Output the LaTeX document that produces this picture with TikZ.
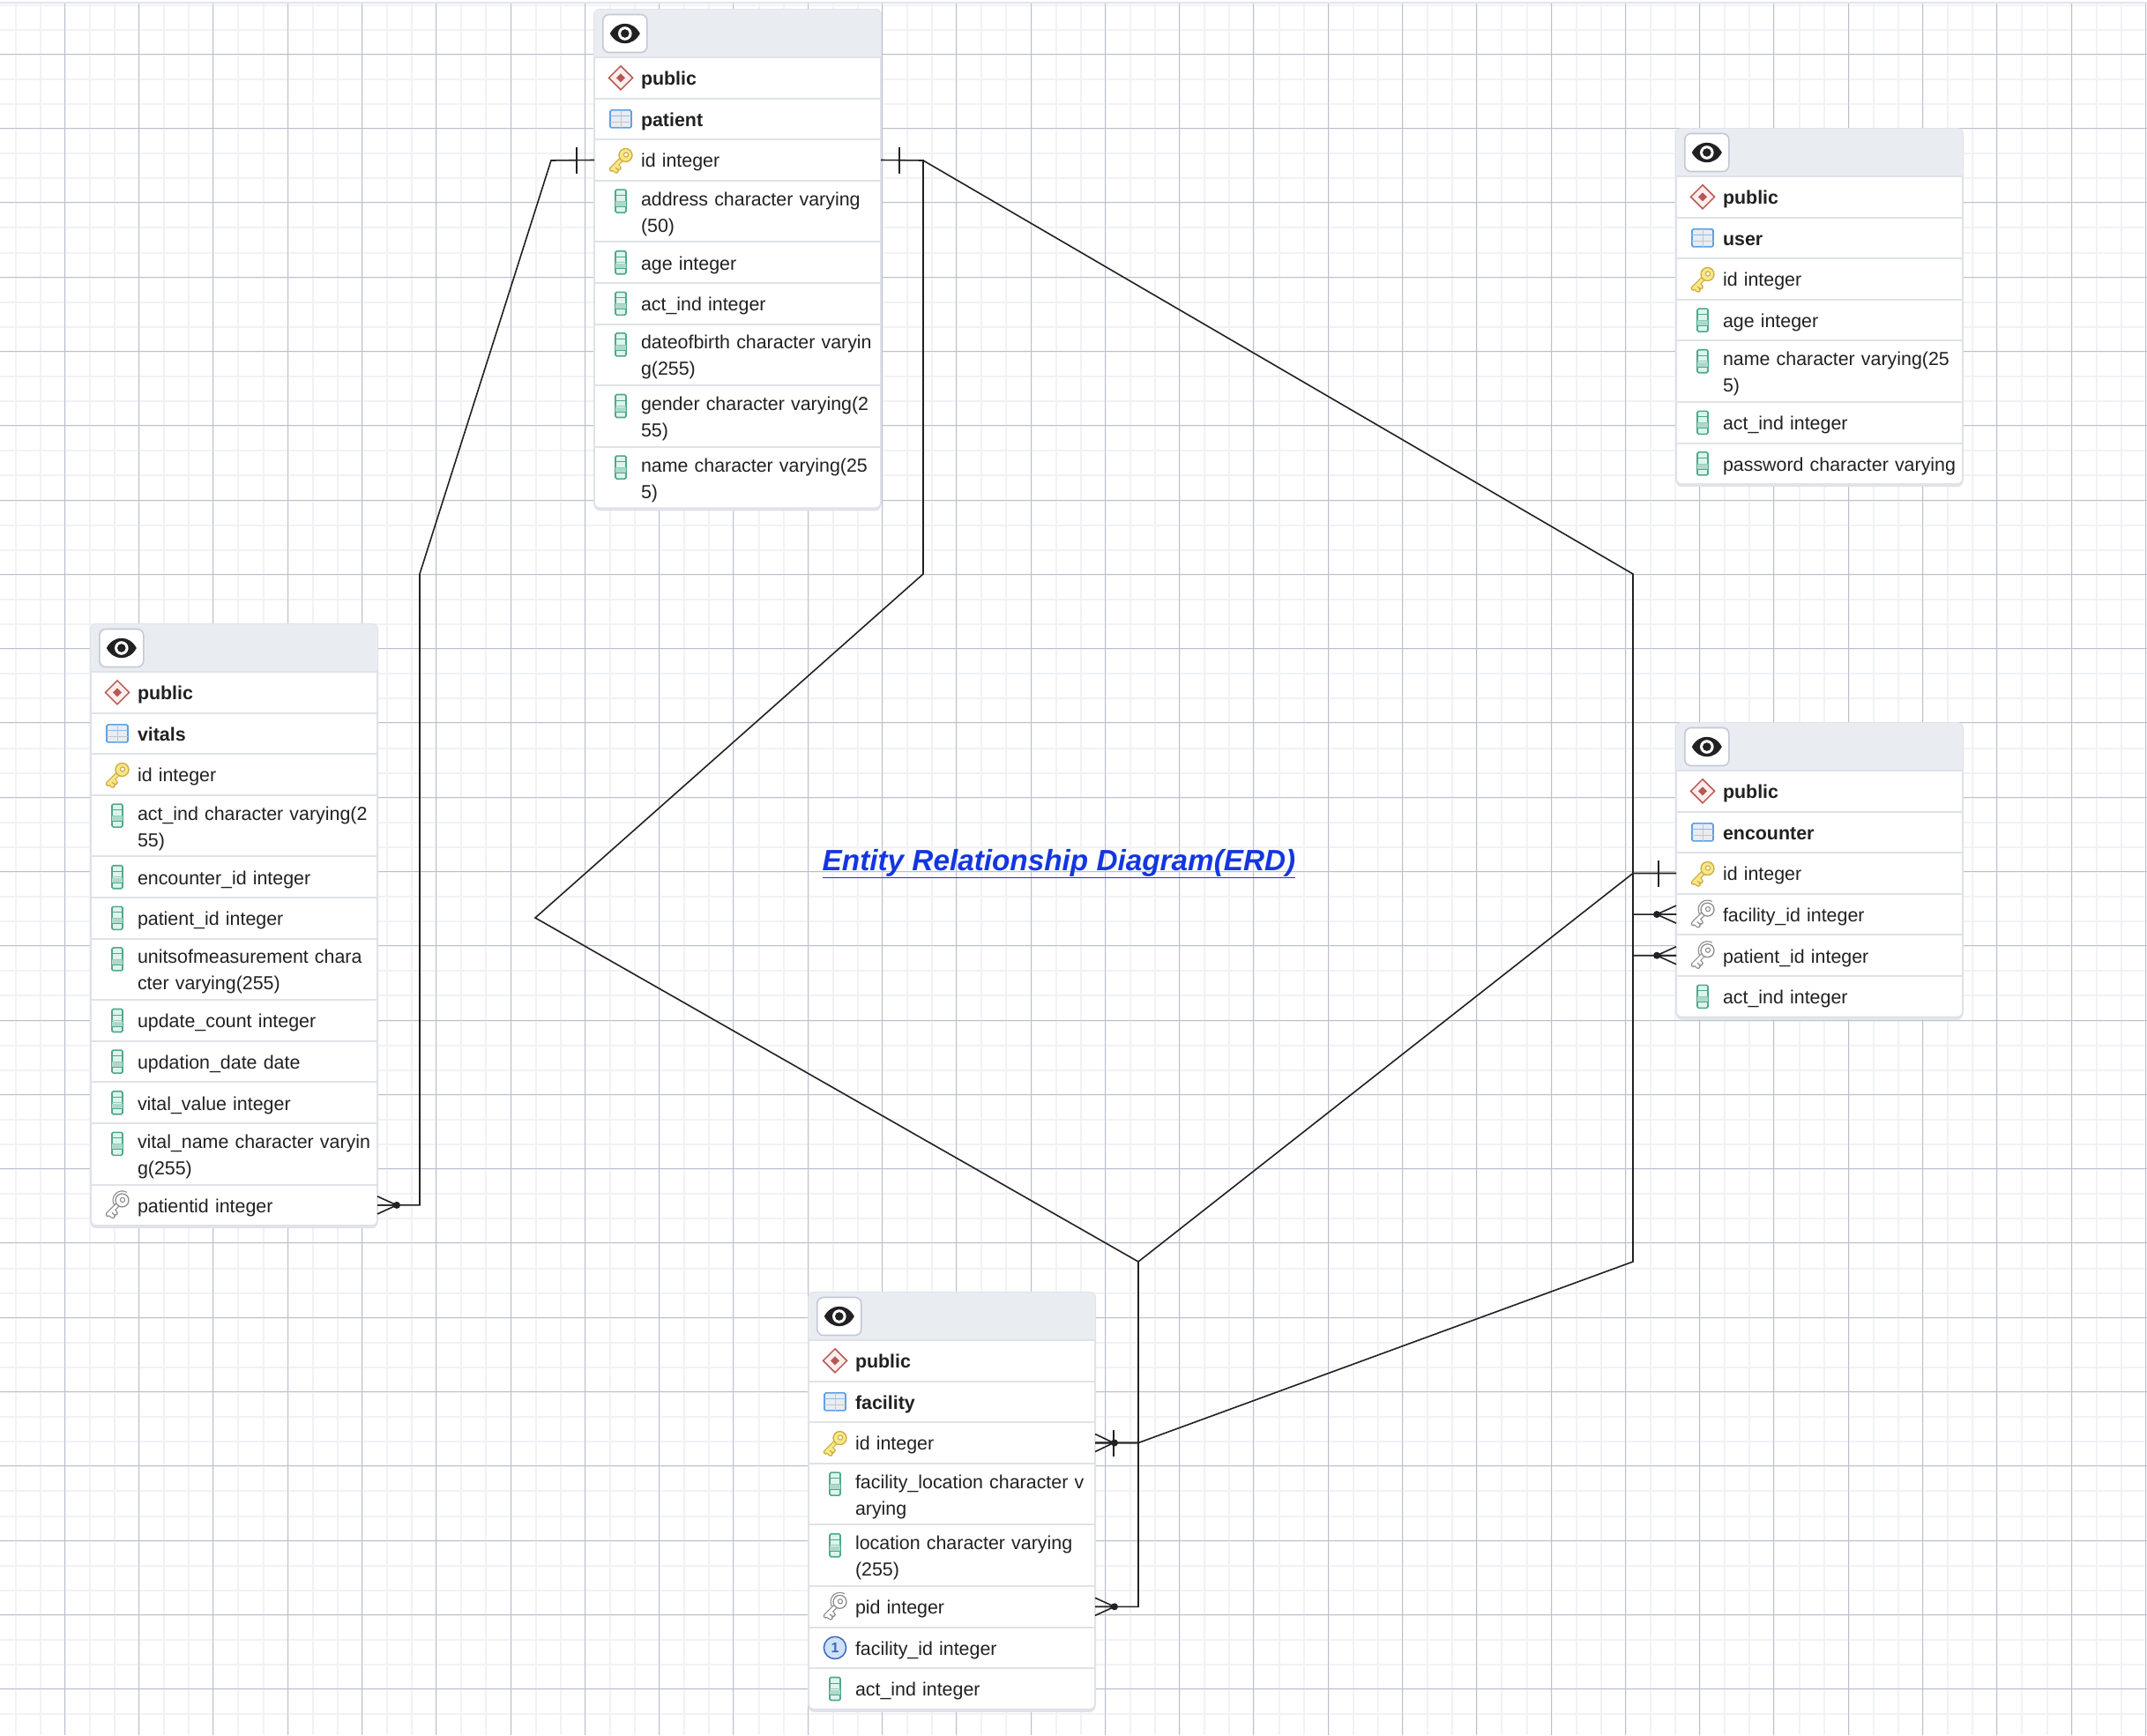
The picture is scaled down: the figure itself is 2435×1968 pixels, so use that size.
\documentclass[tikz,border=0pt]{standalone}
\usepackage{fontspec}
\setmainfont{Liberation Sans}
\usetikzlibrary{backgrounds,positioning,shapes.geometric}
\definecolor{gridlight}{RGB}{241,242,246}
\definecolor{gridmajor}{RGB}{188,191,204}
\definecolor{topband}{RGB}{226,228,234}
\definecolor{headfill}{RGB}{233,236,241}
\definecolor{rowline}{RGB}{224,226,233}
\definecolor{btnline}{RGB}{196,201,214}
\definecolor{inkblack}{RGB}{33,33,33}
\definecolor{linkblue}{RGB}{20,54,224}
\definecolor{keygold}{RGB}{247,232,130}
\definecolor{keyline}{RGB}{205,170,70}
\definecolor{fkline}{RGB}{140,140,140}
\definecolor{colfill}{RGB}{222,245,237}
\definecolor{colline}{RGB}{78,168,140}
\definecolor{tabline}{RGB}{90,160,230}
\definecolor{schemaline}{RGB}{184,88,84}
\definecolor{schemafill}{RGB}{253,238,237}
\definecolor{oneline}{RGB}{58,104,192}
\definecolor{onefill}{RGB}{207,226,243}
\newcommand{\keyshape}[2]{
  \draw[#2,line width=5.6pt,line cap=round] (3,-3) -- (-10.5,10.5)
    (-9,9) -- (-5,12.5) (-5.5,5.5) -- (-2,9);
  \draw[#1,line width=3.2pt,line cap=round] (3,-3) -- (-10.5,10.5)
    (-9,9) -- (-5,12.5) (-5.5,5.5) -- (-2,9);
  \filldraw[fill=#1,draw=#2,line width=1.3pt] (5.5,-5.5) circle (7.5);
  \filldraw[fill=white,draw=#2,line width=1.1pt] (6,-6) circle (2.6);
}
\tikzset{
  x=1pt,y=-1pt,
  headbox/.style={anchor=north west,minimum width=325pt,minimum height=54pt,inner sep=0pt,outer sep=0pt},
  rowbase/.style={text width=325pt,inner xsep=0pt,inner ysep=0pt,outer sep=0pt,align=left,
    text=inkblack,font=\fontsize{21.4}{30}\selectfont,
    execute at begin node={\leftskip=53pt\relax\rule{0pt}{23.4pt}},
    execute at end node={\rule[-6.6pt]{0pt}{6.6pt}}},
  rowone/.style={rowbase,minimum height=46.6pt},
  rowbold/.style={rowbase,minimum height=46.6pt,font=\fontsize{21.4}{30}\selectfont\bfseries},
  rowtwo/.style={rowbase,minimum height=69.6pt},
  eyebtn/.style={draw=btnline,fill=white,line width=1.6pt,rounded corners=7pt,
    minimum width=50pt,minimum height=43pt,inner sep=0pt,anchor=west},
  sepline/.style={draw=rowline,line width=2pt},
  tableframe/.style={fill=white,draw=rowline,line width=2pt,rounded corners=6pt},
  rel/.style={draw=inkblack,line width=1.6pt},
  eyeicon/.pic={
    \fill[inkblack] (-17,0) .. controls (-9,-15) and (9,-15) .. (17,0) .. controls (9,15) and (-9,15) .. (-17,0) -- cycle;
    \fill[white] (0,0) circle (7.8);
    \fill[inkblack] (0,0) circle (4.8);
  },
  schemaicon/.pic={
    \filldraw[fill=schemafill,draw=schemaline,line width=1.5pt] (-13.5,0) -- (0,-13.5) -- (13.5,0) -- (0,13.5) -- cycle;
    \fill[schemaline] (-5,0) -- (0,-5) -- (5,0) -- (0,5) -- cycle;
  },
  tableicon/.pic={
    \filldraw[fill=headfill,draw=tabline,line width=1.6pt,rounded corners=1.5pt] (-12,-10) rectangle (12,10);
    \draw[gray!45,line width=1pt] (0,-10) -- (0,10) (-12,3.5) -- (12,3.5);
    \draw[tabline!70,line width=1pt] (-12,-3.5) -- (12,-3.5);
  },
  columnicon/.pic={
    \filldraw[fill=colfill,draw=colline,line width=1.6pt,rounded corners=1.5pt] (-6,-13) rectangle (6,13);
    \fill[colline!45] (-6,1) rectangle (6,6.5);
    \draw[colline,line width=1pt] (-6,-6.5) -- (6,-6.5) (-6,6.5) -- (6,6.5);
    \draw[colline!60,line width=.8pt] (-6,0) -- (6,0);
  },
  keyicon/.pic={\keyshape{keygold}{keyline}},
  fkicon/.pic={
    \draw[fkline,line width=1.1pt] (-2.5,1.2) arc (140:300:10.5);
    \keyshape{white}{fkline}
  },
  uniqueicon/.pic={
    \filldraw[fill=onefill,draw=oneline,line width=1.5pt] (0,0) circle (12.6);
    \node[text=oneline,font=\fontsize{16}{16}\selectfont\bfseries,inner sep=0pt] (onedigit) {1};
  },
  onebar/.pic={
    \draw[rel,line width=2pt] (20.5,-15) -- (20.5,15);
  },
  crowdot/.pic={
    \draw[rel] (0,-10) -- (22,0) -- (0,10) (0,0) -- (22,0);
    \fill[inkblack] (22,0) circle (4);
  },
  crowbar/.pic={
    \draw[rel] (0,-10) -- (21,0) -- (0,10) (0,0) -- (21,0);
    \draw[rel,line width=2pt] (20.5,-15) -- (20.5,15);
    \fill[inkblack] (22,0) circle (4);
  }
}
% one table: name, left, top, rows as name/icon/style/text
\newcommand{\erdtable}[4]{
  \node[headbox] (#1-head) at (#2,#3) {};
  \node[eyebtn] (#1-btn) at ([xshift=9pt]#1-head.west) {};
  \pic at (#1-btn) {eyeicon};
  \foreach \nm/\ic/\kind/\txt [remember=\nm as \prev (initially head)] in {#4}{
    \node[\kind,below=0pt of #1-\prev,alias=#1-last] (#1-\nm) {\txt};
    \pic at ([xshift=30pt,yshift=-23.3pt]#1-\nm.north west) {\ic};
    \draw[sepline] (#1-\nm.north west) -- (#1-\nm.north east);
  }
  \begin{scope}[on background layer]
    \fill[rowline,rounded corners=6pt] (#1-head.north west) rectangle ([yshift=-3pt]#1-last.south east);
    \path[tableframe] (#1-head.north west) rectangle (#1-last.south east);
    \fill[headfill] (#1-head.south west) [rounded corners=6pt] -- (#1-head.north west) -- (#1-head.north east) [sharp corners] -- (#1-head.south east) -- cycle;
  \end{scope}
}

\begin{document}
\begin{tikzpicture}
  \useasboundingbox (0,0) rectangle (2435,1968);
  \begin{scope}[on background layer]
    \fill[white] (0,0) rectangle (2435,1968);
    \foreach \k in {0,...,86} \draw[gridlight,line width=2pt] ({int(17.1+28.097*\k)+1},4) -- ({int(17.1+28.097*\k)+1},1968);
    \foreach \k in {0,...,70} \draw[gridlight,line width=2pt] (0,{int(5.1+28.097*\k)+1}) -- (2435,{int(5.1+28.097*\k)+1});
    \foreach \k in {0,...,28} \draw[gridmajor,line width=1pt] ({int(73.3+84.29*\k)+.5},4) -- ({int(73.3+84.29*\k)+.5},1968);
    \foreach \k in {0,...,23} \draw[gridmajor,line width=1pt] (0,{int(61.3+84.29*\k)+.5}) -- (2435,{int(61.3+84.29*\k)+.5});
    \fill[topband] (0,2) rectangle (2435,4);
  \end{scope}

  \erdtable{patient}{674}{11}{
    schema/schemaicon/rowbold/public,
    tbl/tableicon/rowbold/patient,
    id/keyicon/rowone/id integer,
    address/columnicon/rowtwo/address character varying\\(50),
    age/columnicon/rowone/age integer,
    act/columnicon/rowone/act\_ind integer,
    birth/columnicon/rowtwo/dateofbirth character varyin\\g(255),
    gender/columnicon/rowtwo/gender character varying(2\\55),
    name/columnicon/rowtwo/name character varying(25\\5)}
  \erdtable{user}{1901}{146}{
    schema/schemaicon/rowbold/public,
    tbl/tableicon/rowbold/user,
    id/keyicon/rowone/id integer,
    age/columnicon/rowone/age integer,
    name/columnicon/rowtwo/name character varying(25\\5),
    act/columnicon/rowone/act\_ind integer,
    password/columnicon/rowone/password character varying}
  \erdtable{vitals}{103}{708}{
    schema/schemaicon/rowbold/public,
    tbl/tableicon/rowbold/vitals,
    id/keyicon/rowone/id integer,
    act/columnicon/rowtwo/act\_ind character varying(2\\55),
    encounter/columnicon/rowone/encounter\_id integer,
    patient/columnicon/rowone/patient\_id integer,
    units/columnicon/rowtwo/unitsofmeasurement chara\\cter varying(255),
    count/columnicon/rowone/update\_count integer,
    updation/columnicon/rowone/updation\_date date,
    value/columnicon/rowone/vital\_value integer,
    name/columnicon/rowtwo/vital\_name character varyin\\g(255),
    patientid/fkicon/rowone/patientid integer}
  \erdtable{encounter}{1901}{820}{
    schema/schemaicon/rowbold/public,
    tbl/tableicon/rowbold/encounter,
    id/keyicon/rowone/id integer,
    facility/fkicon/rowone/facility\_id integer,
    patient/fkicon/rowone/patient\_id integer,
    act/columnicon/rowone/act\_ind integer}
  \erdtable{facility}{917}{1466}{
    schema/schemaicon/rowbold/public,
    tbl/tableicon/rowbold/facility,
    id/keyicon/rowone/id integer,
    place/columnicon/rowtwo/facility\_location character v\\arying,
    location/columnicon/rowtwo/location character varying\\(255),
    pid/fkicon/rowone/pid integer,
    facid/uniqueicon/rowone/facility\_id integer,
    act/columnicon/rowone/act\_ind integer}

  \node[font=\fontsize{33.3}{36}\selectfont\bfseries\itshape,text=linkblue] (title) at (1201,979.5) {\underline{Entity Relationship Diagram(ERD)}};

  \coordinate (bendA) at (625,182);
  \coordinate (bendB) at (476,651);
  \coordinate (bendC) at (1047,182);
  \coordinate (bendD) at (1047,651);
  \coordinate (bendE) at (607,1041);
  \coordinate (bendF) at (1291,1431);
  \coordinate (bendG) at (1852,651);
  \coordinate (bendH) at (1852,1431);

  \draw[rel] (patient-id.west) -- (bendA) -- (bendB) |- (vitals-patientid.east);
  \draw[rel] (patient-id.east) -- (bendC) -- (bendD) -- (bendE) -- (bendF) |- (facility-pid.east);
  \draw[rel] (bendC) -- (bendG) |- (encounter-patient.west);
  \draw[rel] (encounter-id.west) -- (bendG |- encounter-id.west) -- (bendF) |- (facility-id.east);
  \draw[rel] (facility-id.east) -- (bendF |- facility-id.east) -- (bendH) |- (encounter-facility.west);

  \pic[xscale=-1] at (patient-id.west) {onebar};
  \pic at (patient-id.east) {onebar};
  \pic[xscale=-1] at (encounter-id.west) {onebar};
  \pic[xscale=-1] at (encounter-facility.west) {crowdot};
  \pic[xscale=-1] at (encounter-patient.west) {crowdot};
  \pic at (vitals-patientid.east) {crowdot};
  \pic at (facility-pid.east) {crowdot};
  \pic at (facility-id.east) {crowbar};
\end{tikzpicture}
\end{document}
